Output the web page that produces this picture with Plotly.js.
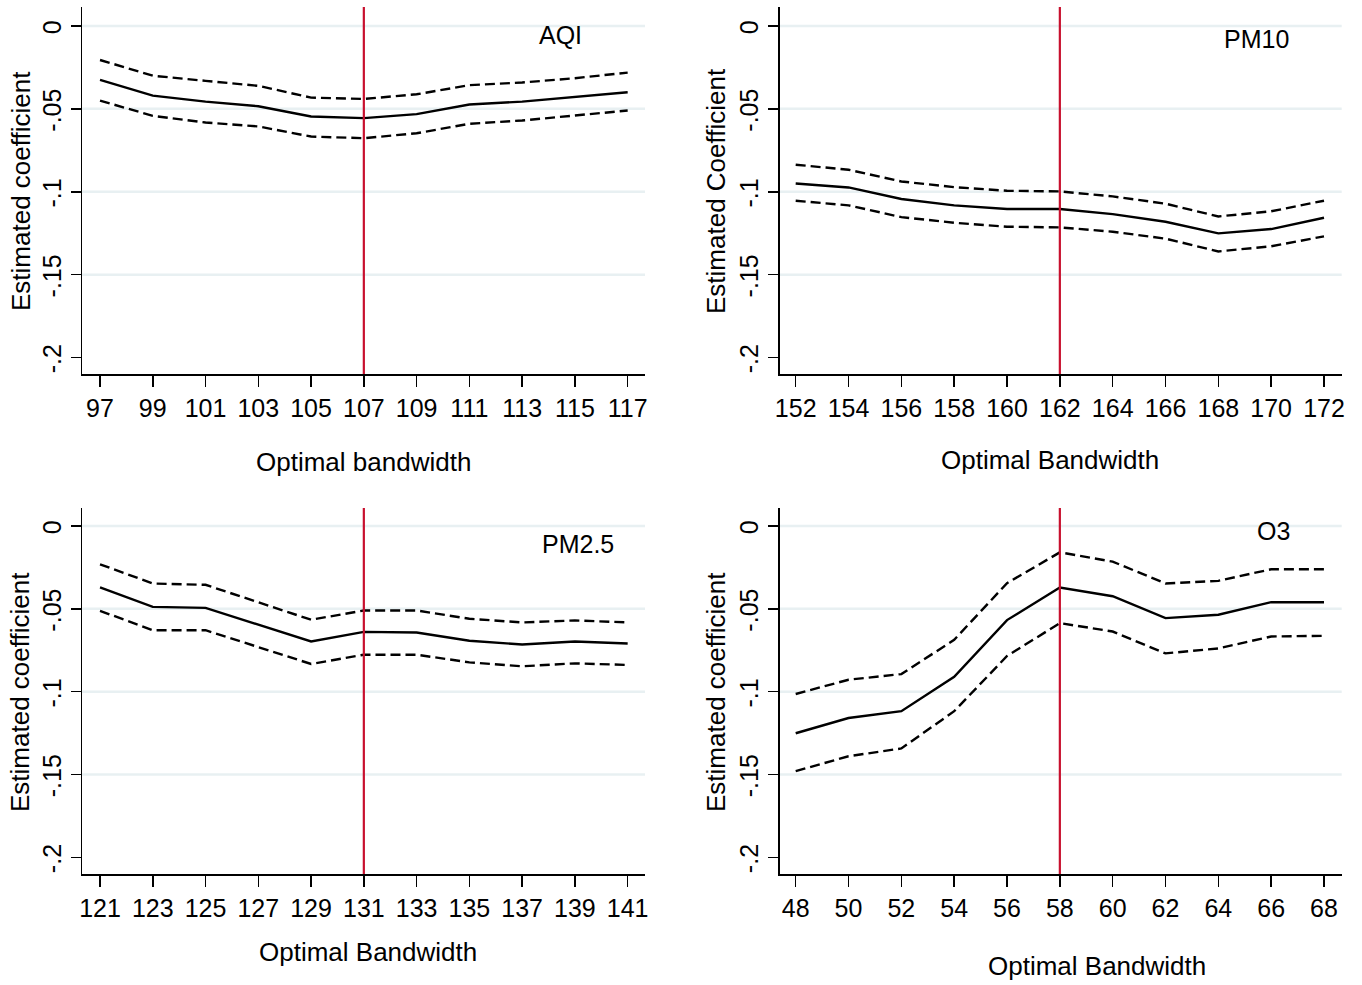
<!DOCTYPE html>
<html><head><meta charset="utf-8">
<script src="https://cdn.plot.ly/plotly-3.0.1.min.js"></script>
<style>html,body{margin:0;padding:0;background:#fff}#chart{width:1362px;height:985px}</style>
</head><body><div id="chart"></div>
<script>
// ---- data ----
const aqiBandwidth  = [97, 99, 101, 103, 105, 107, 109, 111, 113, 115, 117];
const aqiCoef       = [-0.0325, -0.0420, -0.0456, -0.0484, -0.0546, -0.0556, -0.0532, -0.0474, -0.0456, -0.0430, -0.0400];
const aqiUpper      = [-0.0205, -0.0300, -0.0331, -0.0361, -0.0432, -0.0440, -0.0412, -0.0357, -0.0341, -0.0315, -0.0281];
const aqiLower      = [-0.0450, -0.0542, -0.0582, -0.0606, -0.0667, -0.0677, -0.0647, -0.0590, -0.0570, -0.0540, -0.0510];

const pm10Bandwidth = [152, 154, 156, 158, 160, 162, 164, 166, 168, 170, 172];
const pm10Coef      = [-0.0950, -0.0974, -0.1044, -0.1082, -0.1104, -0.1104, -0.1135, -0.1181, -0.1251, -0.1225, -0.1157];
const pm10Upper     = [-0.0837, -0.0867, -0.0938, -0.0972, -0.0994, -0.0998, -0.1028, -0.1072, -0.1149, -0.1118, -0.1054];
const pm10Lower     = [-0.1054, -0.1082, -0.1153, -0.1187, -0.1211, -0.1215, -0.1241, -0.1283, -0.1360, -0.1329, -0.1269];

const pm25Bandwidth = [121, 123, 125, 127, 129, 131, 133, 135, 137, 139, 141];
const pm25Coef      = [-0.0371, -0.0488, -0.0494, -0.0596, -0.0697, -0.0639, -0.0643, -0.0693, -0.0715, -0.0697, -0.0709];
const pm25Upper     = [-0.0231, -0.0347, -0.0355, -0.0460, -0.0566, -0.0510, -0.0510, -0.0560, -0.0582, -0.0570, -0.0582];
const pm25Lower     = [-0.0512, -0.0629, -0.0629, -0.0733, -0.0833, -0.0777, -0.0777, -0.0823, -0.0847, -0.0829, -0.0839];

const o3Bandwidth   = [48, 50, 52, 54, 56, 58, 60, 62, 64, 66, 68];
const o3Coef        = [-0.1251, -0.1159, -0.1118, -0.0910, -0.0568, -0.0371, -0.0424, -0.0556, -0.0536, -0.0460, -0.0460];
const o3Upper       = [-0.1014, -0.0928, -0.0894, -0.0687, -0.0345, -0.0159, -0.0215, -0.0347, -0.0331, -0.0261, -0.0261];
const o3Lower       = [-0.1480, -0.1390, -0.1343, -0.1118, -0.0785, -0.0586, -0.0637, -0.0769, -0.0739, -0.0667, -0.0663];

const optimalBandwidth = [107, 162, 131, 58];
const panelNames = ['AQI', 'PM10', 'PM2.5', 'O3'];
const xTitles = ['Optimal bandwidth', 'Optimal Bandwidth', 'Optimal Bandwidth', 'Optimal Bandwidth'];
const yTitles = ['Estimated coefficient', 'Estimated Coefficient', 'Estimated coefficient', 'Estimated coefficient'];
const yTickVals = [0, -0.05, -0.1, -0.15, -0.2];
const yTickText = ['0', '-.05', '-.1', '-.15', '-.2'];
const gridVals = [0, -0.05, -0.1, -0.15];

// ---- layout helpers ----
const W = 1362, H = 985;
const px = x => x / W;
const py = y => 1 - y / H;
const FONT = 'Liberation Sans, Arial, Helvetica, sans-serif';

const panels = [
  {bw: aqiBandwidth,  c: aqiCoef,  u: aqiUpper,  l: aqiLower,  xd: [82, 645],      yd: [374, 7],   xr: [96.317, 117.657],  yr: [-0.20995, 0.01146],
   xt: [363, 462],  yt: [21, 191],  lab: [560, 35]},
  {bw: pm10Bandwidth, c: pm10Coef, u: pm10Upper, l: pm10Lower, xd: [779.5, 1341.7], yd: [374, 7],   xr: [151.387, 172.67],  yr: [-0.20995, 0.01146],
   xt: [1050, 460], yt: [716, 191], lab: [1256, 39]},
  {bw: pm25Bandwidth, c: pm25Coef, u: pm25Upper, l: pm25Lower, xd: [82, 645],      yd: [874, 508], xr: [120.317, 141.657], yr: [-0.21008, 0.01087],
   xt: [368, 952],  yt: [20, 692],  lab: [578, 544]},
  {bw: o3Bandwidth,   c: o3Coef,   u: o3Upper,   l: o3Lower,   xd: [779.5, 1341.7], yd: [874, 508], xr: [47.387, 68.67],   yr: [-0.21008, 0.01087],
   xt: [1097, 966], yt: [716, 692], lab: [1273, 531]}
];

const data = [], shapes = [], annotations = [];
const layout = {
  width: W, height: H, margin: {l: 0, r: 0, t: 0, b: 0},
  paper_bgcolor: '#ffffff', plot_bgcolor: '#ffffff',
  showlegend: false, font: {family: FONT, color: '#000', size: 25}
};

panels.forEach((p, i) => {
  const n = i === 0 ? '' : String(i + 1);
  const xa = 'x' + n, ya = 'y' + n;
  layout['xaxis' + n] = {
    domain: [px(p.xd[0]), px(p.xd[1])], range: p.xr, anchor: ya,
    tickvals: p.bw, ticktext: p.bw.map(String),
    showgrid: false, zeroline: false, showline: true, linecolor: '#000', linewidth: 1.5,
    ticks: 'outside', ticklen: 11, tickwidth: 1.5, tickcolor: '#000',
    tickfont: {family: FONT, size: 25, color: '#000'}, fixedrange: true
  };
  layout['yaxis' + n] = {
    domain: [py(p.yd[0]), py(p.yd[1])], range: p.yr, anchor: xa,
    tickvals: yTickVals, ticktext: yTickText, tickangle: -90, ticklabelshift: 5,
    showgrid: false, zeroline: false, showline: true, linecolor: '#000', linewidth: 1.5,
    ticks: 'outside', ticklen: 10, tickwidth: 1.5, tickcolor: '#000',
    tickfont: {family: FONT, size: 25, color: '#000'}, fixedrange: true
  };
  gridVals.forEach(g => shapes.push({
    type: 'line', xref: xa + ' domain', yref: ya, x0: 0, x1: 1, y0: g, y1: g,
    line: {color: '#e8f0f2', width: 2.5}, layer: 'below'
  }));
  shapes.push({
    type: 'line', xref: xa, yref: ya + ' domain', x0: optimalBandwidth[i], x1: optimalBandwidth[i], y0: 0, y1: 1,
    line: {color: '#c8102e', width: 2.2}, layer: 'above'
  });
  const dashLine = {color: '#000', width: 2.4, dash: '10px,5px'};
  data.push({type: 'scatter', mode: 'lines', x: p.bw, y: p.u, xaxis: xa, yaxis: ya, line: dashLine, hoverinfo: 'skip'});
  data.push({type: 'scatter', mode: 'lines', x: p.bw, y: p.l, xaxis: xa, yaxis: ya, line: dashLine, hoverinfo: 'skip'});
  data.push({type: 'scatter', mode: 'lines', x: p.bw, y: p.c, xaxis: xa, yaxis: ya, line: {color: '#000', width: 2.4}, hoverinfo: 'skip'});
  annotations.push({text: xTitles[i], xref: 'paper', yref: 'paper', x: px(p.xt[0]), y: py(p.xt[1]),
    xanchor: 'center', yanchor: 'middle', showarrow: false, font: {family: FONT, size: 26, color: '#000'}});
  annotations.push({text: yTitles[i], xref: 'paper', yref: 'paper', x: px(p.yt[0]), y: py(p.yt[1]),
    xanchor: 'center', yanchor: 'middle', textangle: -90, showarrow: false, font: {family: FONT, size: 26, color: '#000'}});
  annotations.push({text: panelNames[i], xref: 'paper', yref: 'paper', x: px(p.lab[0]), y: py(p.lab[1]),
    xanchor: 'center', yanchor: 'middle', showarrow: false, font: {family: FONT, size: 25, color: '#000'}});
});
layout.shapes = shapes;
layout.annotations = annotations;

Plotly.newPlot('chart', data, layout, {staticPlot: true, displayModeBar: false});
</script>
</body></html>
